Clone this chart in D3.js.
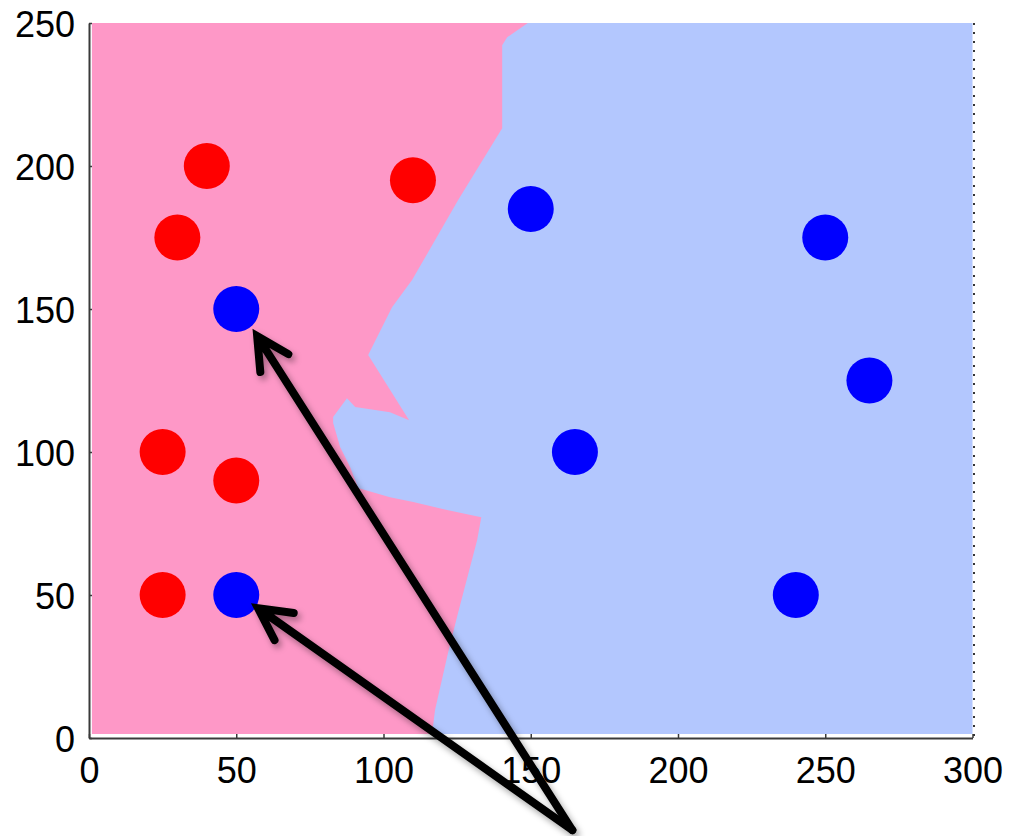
<!DOCTYPE html>
<html>
<head>
<meta charset="utf-8">
<script src="https://cdn.jsdelivr.net/npm/d3@7"></script>
<style>
html,body{margin:0;padding:0;background:#fff;}
svg{display:block;font-family:"Liberation Sans",Arial,sans-serif;}
</style>
</head>
<body>
<svg id="chart" width="1009" height="836"></svg>
<script>
// ---- data ----
const xTicks = [0, 50, 100, 150, 200, 250, 300];
const yTicks = [0, 50, 100, 150, 200, 250];
const redPoints = [[40,200],[110,195],[30,175],[25,100],[50,90],[25,50]];
const bluePoints = [[150,185],[250,175],[50,150],[265,125],[165,100],[50,50],[240,50]];
// decision boundary (pink region on the left), top to bottom
const boundary = [
  [149,250],[142,245],[140.3,242.2],[140.3,213.2],[125.3,188],[109.7,160.1],
  [102.9,150.6],[94.8,133.9],[108.7,111.1],[102.2,113.9],[90.4,115.7],[87.6,118.8],
  [82.9,112.2],[82.9,110.1],[85.3,101.7],[88.7,94.7],[91.4,87.4],[102.2,84.2],
  [110.1,82.5],[121.6,79.7],[133.2,77.2],[131.8,69.2],[125.3,43.7],[121.9,29.7],
  [117.5,9.8],[116.5,1.4]
];
const imageExtent = {x0: 1, x1: 300, y0: 1.4, y1: 250};
// annotation arrows: [start, tip] in data units
const arrows = [
  [[164.1,-32.2],[57.1,140.5]],
  [[164.1,-32.2],[57.4,45.4]]
];

// ---- scales ----
const svg = d3.select("#chart");
const x = d3.scaleLinear().domain([0,300]).range([89, 972.5]);
const y = d3.scaleLinear().domain([0,250]).range([738, 23]);

const defs = svg.append("defs");
const f = defs.append("filter").attr("id","shadow").attr("x","-20%").attr("y","-20%").attr("width","140%").attr("height","140%");
f.append("feDropShadow").attr("dx",3).attr("dy",4).attr("stdDeviation",3).attr("flood-color","#000").attr("flood-opacity",0.35);

// background regions
svg.append("rect")
  .attr("x", x(imageExtent.x0)).attr("y", y(imageExtent.y1))
  .attr("width", x(imageExtent.x1)-x(imageExtent.x0))
  .attr("height", y(imageExtent.y0)-y(imageExtent.y1))
  .attr("fill", "#b3c7fe");

const pinkPoly = [[imageExtent.x0, imageExtent.y0],[imageExtent.x0, imageExtent.y1]]
  .concat(boundary);
svg.append("path")
  .attr("d", d3.line().x(d=>x(d[0])).y(d=>y(d[1])).curve(d3.curveLinear)(pinkPoly) + "Z")
  .attr("fill", "#fe98c7");

// points
svg.append("g").selectAll("circle").data(redPoints).join("circle")
  .attr("cx", d=>x(d[0])).attr("cy", d=>y(d[1])).attr("r", 23).attr("fill", "#ff0000");
svg.append("g").selectAll("circle").data(bluePoints).join("circle")
  .attr("cx", d=>x(d[0])).attr("cy", d=>y(d[1])).attr("r", 23).attr("fill", "#0000ff");

// axes
const axisColor = "#3a3a3a";
const xAxis = d3.axisBottom(x).tickValues(xTicks).tickSizeInner(-4).tickSizeOuter(0).tickPadding(0);
const gx = svg.append("g").attr("transform", `translate(0,${y(0)})`).call(xAxis);
gx.select(".domain").attr("stroke", axisColor).attr("stroke-width", 2);
gx.selectAll(".tick line").attr("stroke", axisColor).attr("stroke-width", 1.5);
gx.selectAll(".tick text").attr("font-size", 36).attr("fill", "#000")
  .attr("font-family", '"Liberation Sans",Arial,sans-serif').attr("y", 45).attr("dy", 0);

const yAxis = d3.axisLeft(y).tickValues(yTicks).tickSizeInner(-3).tickSizeOuter(0).tickPadding(0);
const gy = svg.append("g").attr("transform", `translate(${x(0)},0)`).call(yAxis);
gy.select(".domain").attr("stroke", axisColor).attr("stroke-width", 2);
gy.selectAll(".tick line").attr("stroke", axisColor).attr("stroke-width", 1.5);
gy.selectAll(".tick text").attr("font-size", 36).attr("fill", "#000")
  .attr("font-family", '"Liberation Sans",Arial,sans-serif').attr("x", -14).attr("dy", 13);

// right dotted border
svg.append("line")
  .attr("x1", x(300)+1.5).attr("x2", x(300)+1.5).attr("y1", y(250)).attr("y2", y(0))
  .attr("stroke", "#333").attr("stroke-width", 2).attr("stroke-dasharray", "2,7");

// arrows
const ag = svg.append("g").attr("filter", "url(#shadow)");
arrows.forEach(([s, t]) => {
  const sx = x(s[0]), sy = y(s[1]), tx = x(t[0]), ty = y(t[1]);
  const ang = Math.atan2(sy - ty, sx - tx);
  const L = 36, spread = 0.48;
  const w1 = [tx + L*Math.cos(ang+spread), ty + L*Math.sin(ang+spread)];
  const w2 = [tx + L*Math.cos(ang-spread), ty + L*Math.sin(ang-spread)];
  ag.append("path")
    .attr("d", `M${sx},${sy}L${tx+3*Math.cos(ang)},${ty+3*Math.sin(ang)}M${w1[0]},${w1[1]}L${tx},${ty}L${w2[0]},${w2[1]}`)
    .attr("fill", "none").attr("stroke", "#000").attr("stroke-width", 8)
    .attr("stroke-linecap", "round").attr("stroke-linejoin", "miter");
});
</script>
</body>
</html>
